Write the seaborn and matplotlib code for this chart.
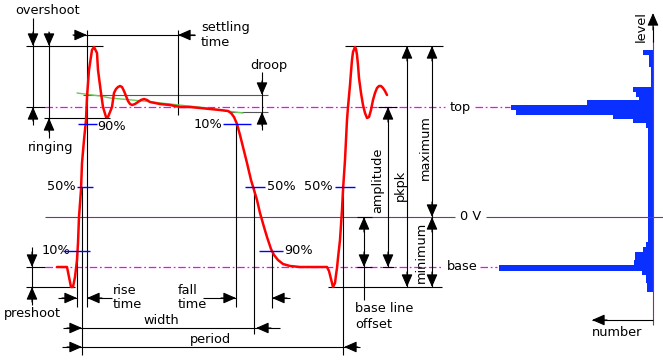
import matplotlib
matplotlib.use('Agg')
import matplotlib.pyplot as plt
import numpy as np
import pandas as pd
import seaborn as sns

sns.set_theme(style='white')
plt.rcParams['font.family'] = ['DejaVu Sans']

# Traced waveform (x = time, y = level, screen units, y grows downward)
wave_t = [57, 67, 69, 71, 73, 75, 77, 78, 79, 81, 82, 84, 86, 87, 89, 92, 94, 97, 98, 101,
          103, 106, 108, 112, 114, 116, 118, 120, 122, 124, 126, 128, 130, 132, 135, 138,
          141, 144, 147, 150, 155, 160, 170, 180, 190, 200, 210, 220, 228, 231, 234, 237,
          240, 243, 247, 251, 254, 257, 260, 264, 267, 271, 274, 278, 283, 290, 300, 327,
          329, 331, 333, 335, 336, 337, 338, 340, 341, 342, 343, 344, 345, 346, 347, 348,
          350, 351, 352, 353, 355, 356, 357, 358, 359, 361, 363, 365, 367, 369, 371, 373,
          375, 377, 379, 381, 383, 385, 387]
wave_v = [267, 267, 277, 287, 287, 277, 260, 243, 217, 190, 163, 140, 120, 97, 70, 50, 47,
          53, 70, 93, 107, 117, 117, 107, 93, 89, 87, 86, 87, 91, 96, 101, 104, 105, 104,
          102, 100, 99, 100, 102, 103, 104, 105, 107, 107, 108, 109, 110, 111, 113, 117,
          124, 135, 147, 163, 180, 190, 200, 213, 227, 237, 249, 255, 260, 264, 266, 267,
          267, 271, 279, 287, 283, 275, 268, 258, 240, 225, 210, 190, 175, 160, 140, 120,
          107, 85, 72, 60, 52, 47, 49, 55, 65, 78, 93, 105, 113, 118, 117, 110, 100, 93,
          88, 86, 86, 88, 91, 95]

# fitted top line (green)
fit_t = [77, 100, 110, 143, 170, 207, 227, 243]
fit_v = [93, 96, 98, 101, 104, 108, 111, 113]

# reference levels
lvl_max, lvl_top, lvl_zero, lvl_base, lvl_min = 46, 107, 217, 267, 287
lvl_ring = 118
lvl_droop = [95, 112]
pct_labels = ['10%', '50%', '90%']
pct_rise = [251, 187, 124]
pct_fall = [124, 187, 251]

# crossing times
t_rise = [77, 82, 87]
t_fall = [236, 254, 272]
t_next = 343
t_settle = 178

# level histogram (bin edges along level, counts)
hist_edges = [50, 55, 67, 87, 92, 97, 100, 105, 110, 115, 119, 123, 128, 242, 247, 252,
              260, 265, 271, 275, 283, 292]
hist_count = [10, 4, 2, 20, 17, 14, 66, 142, 137, 40, 20, 7, 5, 7, 10, 18, 19, 154, 11, 7, 6]
hist_axis = 653

FS = 9.3
BLACK = 'black'
GRAY = '#555555'
PURPLE = '#8a2a8a'
MAGENTA = '#ff00ff'
BLUE = '#0000ff'
HBLUE = '#0a30ff'

fig = plt.figure(figsize=(6.63, 3.62), dpi=100)
ax = fig.add_axes([0, 0, 1, 1])
ax.set_xlim(0, 663)
ax.set_ylim(362, 0)
ax.axis('off')


def seg(x0, y0, x1, y1, color=BLACK, lw=0.8, **kw):
    ax.plot([x0, x1], [y0, y1], color=color, lw=lw, solid_capstyle='butt', **kw)


def head(x0, y0, x1, y1):
    ax.annotate('', xy=(x1, y1), xytext=(x0, y0),
                arrowprops=dict(arrowstyle='-|>,head_length=0.55,head_width=0.24',
                                color=BLACK, lw=0.8, shrinkA=0, shrinkB=0,
                                mutation_scale=14))


def txt(x, y, s, ha='left', rot=0):
    ax.text(x, y, s, ha=ha, va='center', rotation=rot, fontsize=FS, color=BLACK)


# level lines
dash = (0, (6, 2.2, 1.4, 2.2))
ax.plot([45, 445], [lvl_top] * 2, color=MAGENTA, lw=0.9, linestyle=dash)
ax.plot([475, 510], [lvl_top] * 2, color=MAGENTA, lw=0.9, linestyle=dash)
ax.plot([45, 442], [lvl_base] * 2, color=MAGENTA, lw=0.9, linestyle=dash)
ax.plot([480, 497], [lvl_base] * 2, color=MAGENTA, lw=0.9, linestyle=dash)
seg(45, lvl_zero, 455, lvl_zero, color=PURPLE)
seg(486, lvl_zero, 663, lvl_zero, color=PURPLE)
txt(450, lvl_top, 'top')
txt(471, lvl_zero, '0 V', ha='center')
txt(447, lvl_base, 'base')

# droop lines
seg(83, lvl_droop[0], 268, lvl_droop[0], color=GRAY)
seg(231, lvl_droop[1], 268, lvl_droop[1], color=GRAY)

# overshoot
txt(15, 10, 'overshoot')
seg(26, lvl_max, 103, lvl_max)
seg(26, lvl_top, 45, lvl_top)
seg(33, 18, 33, 125)
head(33, 32, 33, lvl_max)
head(33, 121, 33, lvl_top)

# ringing
seg(44, lvl_ring, 110, lvl_ring)
seg(49, 32, 49, 138)
head(49, 32, 49, lvl_max)
head(49, 132, 49, lvl_ring)
txt(28, 147, 'ringing')

# settling time
seg(73, 35, 195, 35)
head(73, 35, t_rise[2], 35)
head(195, 35, t_settle, 35)
seg(t_settle, 30, t_settle, 115)
txt(201, 27, 'settling')
txt(201, 42, 'time')

# droop
seg(262, 72, 262, 130)
head(262, 81, 262, lvl_droop[0])
head(262, 126, 262, lvl_droop[1])
txt(250, 65, 'droop')

# edge crossing verticals
seg(t_rise[0], pct_rise[0], t_rise[0], 307)
seg(t_rise[1], pct_rise[1], t_rise[1], 355)
seg(t_rise[2], 30, t_rise[2], 307)
seg(t_fall[0], pct_fall[0], t_fall[0], 307)
seg(t_fall[1], pct_fall[1], t_fall[1], 334)
seg(t_fall[2], pct_fall[2], t_fall[2], 308)
seg(t_next, pct_rise[1], t_next, 355)

# percentage labels
txt(70, pct_rise[0], pct_labels[0], ha='right')
txt(76, pct_rise[1], pct_labels[1], ha='right')
txt(97, pct_rise[2] + 2, pct_labels[2])
txt(222, pct_fall[0] + 1, pct_labels[0], ha='right')
txt(267, pct_fall[1], pct_labels[1])
txt(284, pct_fall[2], pct_labels[2])
txt(333, pct_rise[1], pct_labels[1], ha='right')

# preshoot
seg(26, lvl_base, 45, lvl_base)
seg(26, lvl_min, 75, lvl_min)
seg(32, 247, 32, 305)
head(32, 252, 32, lvl_base)
head(32, 302, 32, lvl_min)
txt(4, 313, 'preshoot')

# rise / fall time
seg(58, 298, t_rise[0], 298)
seg(t_rise[2], 298, 112, 298)
head(62, 298, t_rise[0], 298)
head(102, 298, t_rise[2], 298)
txt(113, 290, 'rise')
txt(113, 305, 'time')
seg(203, 298, t_fall[0], 298)
seg(t_fall[2], 298, 290, 298)
head(221, 298, t_fall[0], 298)
head(287, 298, t_fall[2], 298)
txt(178, 290, 'fall')
txt(178, 305, 'time')

# width / period
seg(63, 328, 280, 328)
head(67, 328, t_rise[1], 328)
head(271, 328, t_fall[1] + 2, 328)
txt(161, 321, 'width', ha='center')
seg(62, 347, 360, 347)
head(67, 347, t_rise[1], 347)
head(358, 347, t_next + 1, 347)
txt(210, 339, 'period', ha='center')

# second pulse extremes
seg(345, lvl_max, 443, lvl_max)
seg(328, lvl_min, 442, lvl_min)

# base line offset
seg(357, lvl_zero, 372, lvl_zero)
seg(357, lvl_base, 372, lvl_base)
seg(364, lvl_zero, 364, 300)
head(364, 232, 364, lvl_zero)
head(364, 252, 364, lvl_base)
txt(355, 309, 'base line')
txt(355, 324, 'offset')

# amplitude
seg(378, lvl_top, 397, lvl_top)
seg(382, lvl_base, 394, lvl_base)
seg(388, lvl_top, 388, lvl_base)
head(388, 122, 388, lvl_top)
head(388, 252, 388, lvl_base)
txt(378, 180, 'amplitude', ha='center', rot=90)

# pkpk
seg(407, lvl_max, 407, lvl_min)
head(407, 61, 407, lvl_max)
head(407, 272, 407, lvl_min)
txt(400, 185, 'pkpk', ha='center', rot=90)

# maximum / minimum
seg(432, lvl_max, 432, lvl_min)
head(432, 61, 432, lvl_max)
head(432, 202, 432, lvl_zero)
head(432, 232, 432, lvl_zero)
head(432, 272, 432, lvl_min)
txt(425, 148, 'maximum', ha='center', rot=90)
txt(421, 252, 'minimum', ha='center', rot=90)

# waveform
sns.lineplot(x=fit_t, y=fit_v, sort=False, estimator=None, color='#66cc55', lw=1.0, ax=ax)
sns.lineplot(x=wave_t, y=wave_v, sort=False, estimator=None, color='#ff0000', lw=1.8, ax=ax)

# percentage ticks (blue, on top)
for (x0, x1), y in zip([(63, 90), (77, 93), (78, 97)], pct_rise):
    seg(x0, y, x1, y, color=BLUE, lw=1.0, zorder=5)
for (x0, x1), y in zip([(223, 251), (245, 265), (259, 283)], pct_fall):
    seg(x0, y, x1, y, color=BLUE, lw=1.0, zorder=5)
seg(335, pct_rise[1], 355, pct_rise[1], color=BLUE, lw=1.0, zorder=5)

# level histogram
edges = np.array(hist_edges, dtype=float)
counts = np.array(hist_count, dtype=float)
ax.barh(y=(edges[:-1] + edges[1:]) / 2, width=counts, height=np.diff(edges),
        left=hist_axis - counts, color=HBLUE, edgecolor='none', linewidth=0)
seg(hist_axis, 40, hist_axis, 325, color=PURPLE)
seg(hist_axis, 26, hist_axis, 42)
head(hist_axis, 30, hist_axis, 13)
txt(641, 27, 'level', ha='center', rot=90)
seg(592, 320, hist_axis, 320)
head(607, 320, 592, 320)
txt(617, 332, 'number', ha='center')

ax.set_xlim(0, 663)
ax.set_ylim(362, 0)
fig.savefig('out.png', dpi=100)
